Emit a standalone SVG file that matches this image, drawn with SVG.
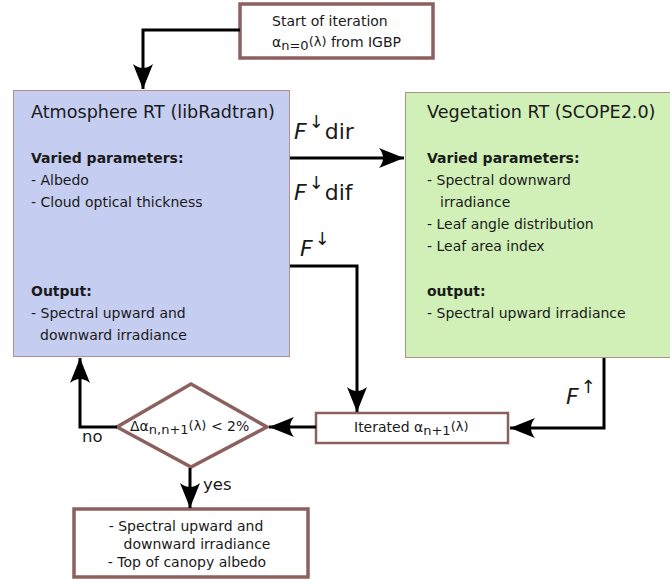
<svg xmlns="http://www.w3.org/2000/svg" width="670" height="584" viewBox="0 0 670 584">
<style>
text{font-family:"DejaVu Sans",sans-serif;fill:#1a1a1a}
.t{font-size:17.6px}
.b{font-size:14px}
.bb{font-size:14px;font-weight:bold}
.f{font-size:22px;font-style:italic}
.fa{font-size:18px;font-style:normal}
.fs{font-size:22px;font-style:normal}
.sub{font-size:13px}
.yn{font-size:16.5px}
.con{fill:none;stroke:#000;stroke-width:3}
.box{fill:#fff;stroke:#8d6060}
</style>
<defs>
<marker id="ah" markerUnits="userSpaceOnUse" viewBox="-26 -12 28 24" refX="0" refY="0" markerWidth="28" markerHeight="24" orient="auto">
<path d="M0,0 L-25,-10 Q-17,0 -25,10 Z" fill="#000"/>
</marker>
</defs>
<rect width="670" height="584" fill="#fff"/>
<g id="start">
<rect class="box" x="240" y="4" width="193" height="54" stroke-width="3.5"/>
<text class="b" x="272" y="26">Start of iteration</text>
<text class="b" x="272" y="47">α<tspan class="sub" dy="3">n=0</tspan><tspan class="sub" dy="-4">(λ)</tspan><tspan dy="1"> from IGBP</tspan></text>
</g>
<g id="atmosphere">
<rect x="13.5" y="90.5" width="276" height="266" fill="#c5cdf1" stroke="#b48e8e" stroke-width="1"/>
<text class="t" x="31" y="118">Atmosphere RT (libRadtran)</text>
<text class="bb" x="31" y="163">Varied parameters:</text>
<text class="b" x="31" y="185">- Albedo</text>
<text class="b" x="31" y="207">- Cloud optical thickness</text>
<text class="bb" x="31" y="296">Output:</text>
<text class="b" x="31" y="318">- Spectral upward and</text>
<text class="b" x="40" y="340">downward irradiance</text>
</g>
<g id="vegetation">
<rect x="405.5" y="92.5" width="270" height="265" fill="#d0f0b8" stroke="#b48e8e" stroke-width="1"/>
<text class="t" x="427" y="118">Vegetation RT (SCOPE2.0)</text>
<text class="bb" x="427" y="163">Varied parameters:</text>
<text class="b" x="427" y="185">- Spectral downward</text>
<text class="b" x="440" y="207">irradiance</text>
<text class="b" x="427" y="229">- Leaf angle distribution</text>
<text class="b" x="427" y="251">- Leaf area index</text>
<text class="bb" x="427" y="296">output:</text>
<text class="b" x="427" y="318">- Spectral upward irradiance</text>
</g>
<g id="iterated">
<rect class="box" x="316" y="413" width="192" height="30" stroke-width="2.5"/>
<text class="b" x="354" y="432">Iterated α<tspan class="sub" dy="3">n+1</tspan><tspan class="sub" dy="-4">(λ)</tspan></text>
</g>
<g id="decision">
<polygon class="box" points="191,384 267,427 191,467 117,427" stroke-width="3.5"/>
<text class="b" x="130" y="431">Δα<tspan class="sub" dy="3">n,n+1</tspan><tspan class="sub" dy="-4">(λ)</tspan><tspan dy="1"> &lt; 2%</tspan></text>
</g>
<g id="result">
<rect class="box" x="74" y="509" width="234" height="68" stroke-width="3.5"/>
<text class="b" x="186" y="531" text-anchor="middle">- Spectral upward and</text>
<text class="b" x="197" y="549" text-anchor="middle">downward irradiance</text>
<text class="b" x="187" y="567" text-anchor="middle">- Top of canopy albedo</text>
</g>
<g id="connectors">
<path class="con" d="M240,30 H143 V89" marker-end="url(#ah)"/>
<path class="con" d="M290,158 H404" marker-end="url(#ah)"/>
<path class="con" d="M290,266 H357 V412" marker-end="url(#ah)"/>
<path class="con" d="M604,358 V428 H510" marker-end="url(#ah)"/>
<path class="con" d="M316,427 H269" marker-end="url(#ah)"/>
<path class="con" d="M117,427 H80 V358" marker-end="url(#ah)"/>
<path class="con" d="M190,468 V508" marker-end="url(#ah)"/>
<text class="f" x="294" y="139">F<tspan class="fa" dx="2" dy="-11">↓</tspan><tspan class="fs" dx="1" dy="11">dir</tspan></text>
<text class="f" x="294" y="200">F<tspan class="fa" dx="2" dy="-11">↓</tspan><tspan class="fs" dx="1" dy="11">dif</tspan></text>
<text class="f" x="300" y="256">F<tspan class="fa" dx="2" dy="-11">↓</tspan></text>
<text class="f" x="566" y="404">F<tspan class="fa" dx="2" dy="-11">↑</tspan></text>
<text class="yn" x="82" y="442">no</text>
<text class="yn" x="203" y="490">yes</text>
</g>
</svg>
